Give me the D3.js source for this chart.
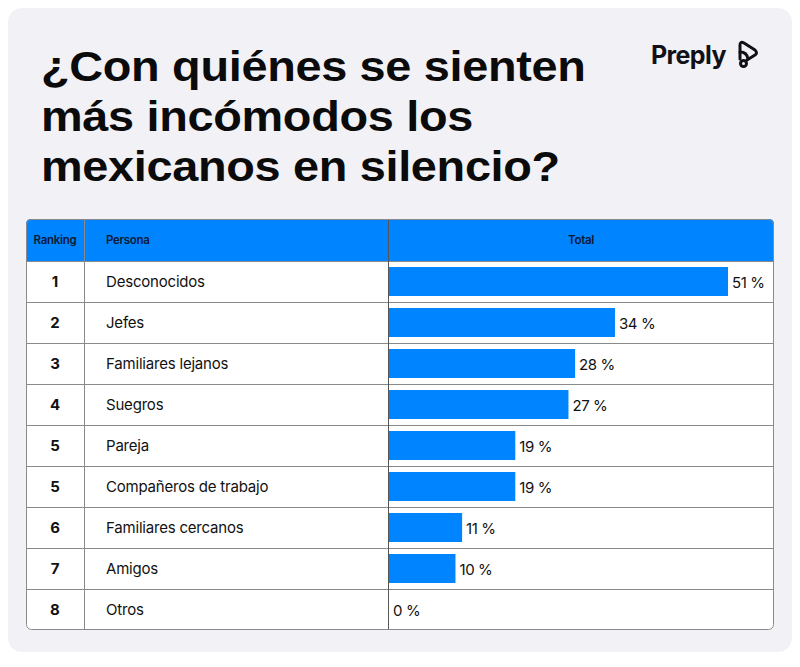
<!DOCTYPE html>
<html>
<head>
<meta charset="utf-8">
<script src="https://cdn.jsdelivr.net/npm/d3@7"></script>
<style>
  body { margin: 0; background: #ffffff; }
</style>
</head>
<body>
<script>
var ranking = ["1", "2", "3", "4", "5", "5", "6", "7", "8"];
var personas = ["Desconocidos", "Jefes", "Familiares lejanos", "Suegros", "Pareja",
  "Compañeros de trabajo", "Familiares cercanos", "Amigos", "Otros"];
var totals = [51, 34, 28, 27, 19, 19, 11, 10, 0];
var headers = ["Ranking", "Persona", "Total"];
var titleLines = ["¿Con quiénes se sienten", "más incómodos los", "mexicanos en silencio?"];

var width = 800, height = 667;
var blue = "#0084ff";
var lineCol = "#8a8a8a";

var tableLeft = 26, tableRight = 774, tableTop = 219, headerH = 42, rowH = 41;
var col1 = 84, col2 = 388;

var rows = personas.map(function(p, i) { return {rank: ranking[i], persona: p, total: totals[i]}; });

var svg = d3.select("body").append("svg")
    .attr("width", width)
    .attr("height", height);

// card
svg.append("rect")
    .attr("x", 8).attr("y", 8)
    .attr("width", 784).attr("height", 644)
    .attr("rx", 14)
    .attr("fill", "#f2f2f6");

// title, stretched a little to match the wide display face
var titleScale = 1.09;
svg.append("g")
    .attr("transform", "translate(41,0) scale(" + titleScale + ",1)")
    .selectAll("text")
    .data(titleLines)
    .enter().append("text")
    .attr("x", 0)
    .attr("y", function(d, i) { return 81 + i * 50; })
    .attr("font-family", "Liberation Sans")
    .attr("font-weight", "bold")
    .attr("font-size", 43)
    .attr("letter-spacing", -0.3)
    .attr("fill", "#0b0b0b")
    .text(function(d) { return d; });

// logo
var logo = svg.append("g").attr("transform", "translate(651,64)");
logo.append("text")
    .attr("font-family", "Inter")
    .attr("font-weight", "bold")
    .attr("font-size", 25)
    .attr("letter-spacing", -0.6)
    .attr("fill", "#121117")
    .text("Preply");
var iconStroke = {"fill": "none", "stroke": "#121117", "stroke-width": 3, "stroke-linejoin": "round", "stroke-linecap": "round"};
var icon = logo.append("g");
icon.append("path")
    .attr("d", "M89,-5 V-19 Q89,-23 93,-21 L104,-14 Q107,-11 104,-9 L96,-4");
icon.append("path")
    .attr("d", "M89,-12 Q96,-12 97,-5");
icon.append("circle")
    .attr("cx", 92.5).attr("cy", -0.5).attr("r", 3);
Object.keys(iconStroke).forEach(function(k) { icon.selectAll("*").attr(k, iconStroke[k]); });

var tableBottom = tableTop + headerH + rowH * rows.length;

var y = d3.scaleBand()
    .domain(d3.range(rows.length))
    .range([tableTop + headerH, tableBottom]);

var x = d3.scaleLinear()
    .domain([0, 51])
    .range([col2 + 1, 728]);

// table background
svg.append("rect")
    .attr("x", tableLeft).attr("y", tableTop)
    .attr("width", tableRight - tableLeft).attr("height", tableBottom - tableTop)
    .attr("rx", 5)
    .attr("fill", "#ffffff");

// header
svg.append("path")
    .attr("d", "M" + tableLeft + "," + (tableTop + headerH) +
      " V" + (tableTop + 5) + " Q" + tableLeft + "," + tableTop + " " + (tableLeft + 5) + "," + tableTop +
      " H" + (tableRight - 5) + " Q" + tableRight + "," + tableTop + " " + tableRight + "," + (tableTop + 5) +
      " V" + (tableTop + headerH) + " Z")
    .attr("fill", blue);

var hdr = svg.append("g")
    .attr("font-family", "Inter")
    .attr("font-size", 11.5)
    .attr("font-weight", 600)
    .attr("letter-spacing", -0.3)
    .attr("fill", "#0d1a33");
hdr.append("text").attr("x", (tableLeft + col1) / 2).attr("y", tableTop + headerH / 2 + 4)
    .attr("text-anchor", "middle").text(headers[0]);
hdr.append("text").attr("x", 106).attr("y", tableTop + headerH / 2 + 4).text(headers[1]);
hdr.append("text").attr("x", (col2 + tableRight) / 2).attr("y", tableTop + headerH / 2 + 4)
    .attr("text-anchor", "middle").text(headers[2]);

// row lines
svg.append("g").selectAll("line")
    .data(d3.range(rows.length))
    .enter().append("line")
    .attr("x1", tableLeft).attr("x2", tableRight)
    .attr("y1", function(d) { return y(d) + 0.5; })
    .attr("y2", function(d) { return y(d) + 0.5; })
    .attr("stroke", lineCol)
    .attr("stroke-width", 1);

// column lines
[col1, col2].forEach(function(cx) {
  svg.append("line")
      .attr("x1", cx + 0.5).attr("x2", cx + 0.5)
      .attr("y1", tableTop).attr("y2", tableBottom)
      .attr("stroke", cx === col2 ? "#555" : lineCol)
      .attr("stroke-width", 1);
});

// bars
svg.selectAll("rect.bar")
    .data(rows)
    .enter().append("rect")
    .attr("class", "bar")
    .attr("x", x(0))
    .attr("y", function(d, i) { return y(i) + 6; })
    .attr("width", function(d) { return x(d.total) - x(0); })
    .attr("height", 29)
    .attr("fill", blue);

// labels
svg.selectAll("text.val")
    .data(rows)
    .enter().append("text")
    .attr("class", "val")
    .attr("x", function(d) { return x(d.total) + 4; })
    .attr("y", function(d, i) { return y(i) + rowH / 2 + 6; })
    .attr("font-family", "Inter")
    .attr("font-size", 15)
    .attr("letter-spacing", -0.4)
    .attr("fill", "#111")
    .text(function(d) { return d.total + " %"; });

svg.selectAll("text.rank")
    .data(rows)
    .enter().append("text")
    .attr("class", "rank")
    .attr("x", (tableLeft + col1) / 2)
    .attr("y", function(d, i) { return y(i) + rowH / 2 + 5; })
    .attr("text-anchor", "middle")
    .attr("font-family", "Inter")
    .attr("font-weight", "bold")
    .attr("font-size", 15)
    .attr("fill", "#111")
    .text(function(d) { return d.rank; });

svg.selectAll("text.persona")
    .data(rows)
    .enter().append("text")
    .attr("class", "persona")
    .attr("x", 106)
    .attr("y", function(d, i) { return y(i) + rowH / 2 + 5; })
    .attr("font-family", "Inter")
    .attr("font-size", 15)
    .attr("letter-spacing", -0.2)
    .attr("fill", "#111")
    .text(function(d) { return d.persona; });

// table border
svg.append("rect")
    .attr("x", tableLeft + 0.5).attr("y", tableTop + 0.5)
    .attr("width", tableRight - tableLeft - 1).attr("height", tableBottom - tableTop - 1)
    .attr("rx", 5)
    .attr("fill", "none")
    .attr("stroke", lineCol)
    .attr("stroke-width", 1);
</script>
</body>
</html>
